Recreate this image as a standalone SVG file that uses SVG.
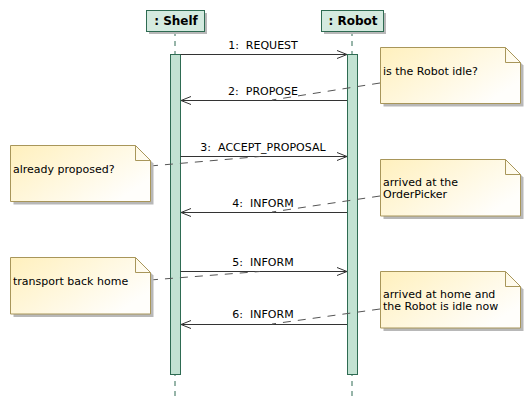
<svg xmlns="http://www.w3.org/2000/svg" width="530" height="409" viewBox="0 0 530 409">
<style>
.hdr{fill:#d4eadf;stroke:#2e6b52;stroke-width:1}
.hdrt{font-family:"DejaVu Sans",sans-serif;font-size:12px;font-weight:bold;fill:#000;text-anchor:middle}
.shadow{fill:#b8b8b8}
.life{stroke:#2e6b52;stroke-width:1;stroke-dasharray:5,5;fill:none}
.act{fill:#c2e2d2;stroke:#2e6b52;stroke-width:1}
.msg{stroke:#333;stroke-width:1;fill:none}
.lbl{font-family:"DejaVu Sans",sans-serif;font-size:11px;fill:#000;text-anchor:middle;white-space:pre}
.note{fill:url(#ng);stroke:#a8965a;stroke-width:1}
.fold{fill:none;stroke:#a8965a;stroke-width:1}
.nt{font-family:"DejaVu Sans",sans-serif;font-size:11px;fill:#000}
.conn{stroke:#555;stroke-width:1;stroke-dasharray:8,7;fill:none}
</style>
<defs>
<linearGradient id="ng" x1="0" y1="0" x2="1" y2="0.6">
<stop offset="0" stop-color="#fff0bd"/>
<stop offset="1" stop-color="#fffefb"/>
</linearGradient>
</defs>

<g id="lifelines">
<line class="life" x1="175" y1="31" x2="175" y2="397"/>
<line class="life" x1="352" y1="31" x2="352" y2="397"/>
</g>

<g id="shelf">
<rect class="shadow" x="149" y="13" width="58" height="21"/>
<rect class="hdr" x="146.5" y="10.5" width="58" height="21"/>
<text class="hdrt" x="176" y="25">: Shelf</text>
<rect class="act" x="170.5" y="54.5" width="10" height="320"/>
</g>

<g id="robot">
<rect class="shadow" x="324" y="13" width="62" height="21"/>
<rect class="hdr" x="321.5" y="10.5" width="62" height="21"/>
<text class="hdrt" x="353" y="25">: Robot</text>
<rect class="act" x="347.5" y="54.5" width="10" height="320"/>
</g>

<g id="connectors">
<line class="msg" x1="180.5" y1="54.5" x2="347" y2="54.5"/>
<polyline class="msg" points="337,50.5 347,54.5 337,58.5"/>
<text class="lbl" x="263" y="49" xml:space="preserve">1:  REQUEST</text>

<line class="msg" x1="347" y1="100.5" x2="181" y2="100.5"/>
<polyline class="msg" points="191,96.5 181,100.5 191,104.5"/>
<text class="lbl" x="263" y="95" xml:space="preserve">2:  PROPOSE</text>

<line class="msg" x1="180.5" y1="156.5" x2="347" y2="156.5"/>
<polyline class="msg" points="337,152.5 347,156.5 337,160.5"/>
<text class="lbl" x="263" y="151" xml:space="preserve">3:  ACCEPT_PROPOSAL</text>

<line class="msg" x1="347" y1="212.5" x2="181" y2="212.5"/>
<polyline class="msg" points="191,208.5 181,212.5 191,216.5"/>
<text class="lbl" x="263" y="207" xml:space="preserve">4:  INFORM</text>

<line class="msg" x1="180.5" y1="271.5" x2="347" y2="271.5"/>
<polyline class="msg" points="337,267.5 347,271.5 337,275.5"/>
<text class="lbl" x="263" y="266" xml:space="preserve">5:  INFORM</text>

<line class="msg" x1="347" y1="324.5" x2="181" y2="324.5"/>
<polyline class="msg" points="191,320.5 181,324.5 191,328.5"/>
<text class="lbl" x="263" y="318" xml:space="preserve">6:  INFORM</text>

<line class="conn" x1="380" y1="83" x2="272" y2="100"/>
<line class="conn" x1="150" y1="166" x2="260" y2="156.5"/>
<line class="conn" x1="380" y1="196" x2="272" y2="212"/>
<line class="conn" x1="150" y1="280" x2="260" y2="271.5"/>
<line class="conn" x1="380" y1="309" x2="272" y2="324"/>
</g>

<g id="note1">
<path class="shadow" d="M383.5,50.5 L508.5,50.5 L523.5,65.5 L523.5,106.5 L383.5,106.5 Z"/>
<path class="note" d="M380.5,47.5 L505.5,47.5 L520.5,62.5 L520.5,103.5 L380.5,103.5 Z"/>
<path class="fold" d="M505.5,47.5 L505.5,62.5 L520.5,62.5"/>
<text class="nt" x="383" y="75">is the Robot idle?</text>
</g>

<g id="note2">
<path class="shadow" d="M13.5,148.5 L138.5,148.5 L153.5,163.5 L153.5,204.5 L13.5,204.5 Z"/>
<path class="note" d="M10.5,145.5 L135.5,145.5 L150.5,160.5 L150.5,201.5 L10.5,201.5 Z"/>
<path class="fold" d="M135.5,145.5 L135.5,160.5 L150.5,160.5"/>
<text class="nt" x="13" y="173">already proposed?</text>
</g>

<g id="note3">
<path class="shadow" d="M383.5,162.5 L508.5,162.5 L523.5,177.5 L523.5,219 L383.5,219 Z"/>
<path class="note" d="M380.5,159.5 L505.5,159.5 L520.5,174.5 L520.5,216 L380.5,216 Z"/>
<path class="fold" d="M505.5,159.5 L505.5,174.5 L520.5,174.5"/>
<text class="nt" x="383" y="186">arrived at the</text>
<text class="nt" x="383" y="198">OrderPicker</text>
</g>

<g id="note4">
<path class="shadow" d="M13.5,260.5 L138.5,260.5 L153.5,275.5 L153.5,317 L13.5,317 Z"/>
<path class="note" d="M10.5,257.5 L135.5,257.5 L150.5,272.5 L150.5,314 L10.5,314 Z"/>
<path class="fold" d="M135.5,257.5 L135.5,272.5 L150.5,272.5"/>
<text class="nt" x="13" y="285">transport back home</text>
</g>

<g id="note5">
<path class="shadow" d="M383.5,274.5 L508.5,274.5 L523.5,289.5 L523.5,331 L383.5,331 Z"/>
<path class="note" d="M380.5,271.5 L505.5,271.5 L520.5,286.5 L520.5,328 L380.5,328 Z"/>
<path class="fold" d="M505.5,271.5 L505.5,286.5 L520.5,286.5"/>
<text class="nt" x="383" y="298">arrived at home and</text>
<text class="nt" x="383" y="310">the Robot is idle now</text>
</g>
</svg>
